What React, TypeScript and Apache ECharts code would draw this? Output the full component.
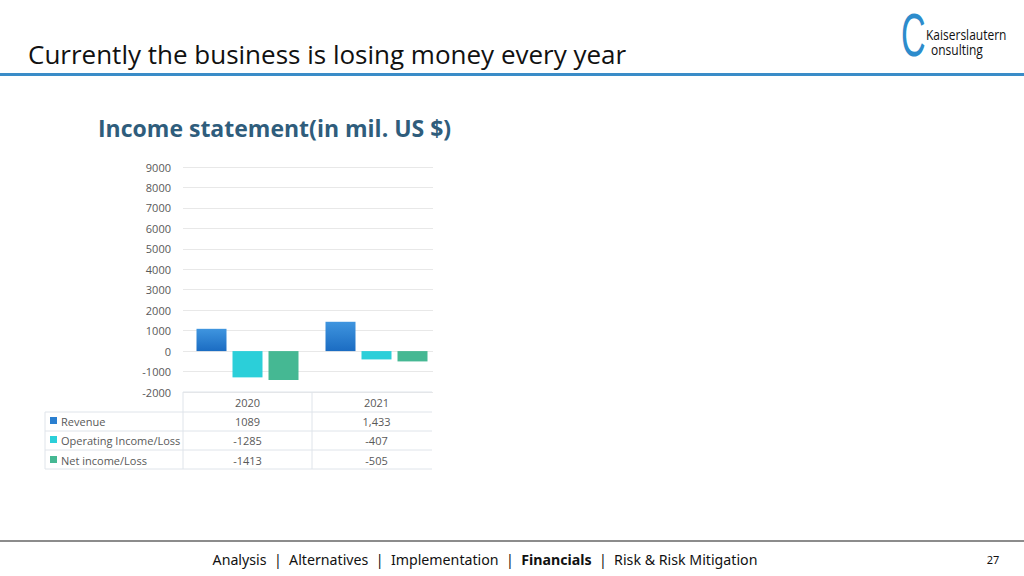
import React, { useEffect, useRef } from "react";
import * as echarts from "echarts";

const years = ["2020", "2021"];
const seriesNames = ["Revenue", "Operating Income/Loss", "Net income/Loss"];
const revenue = [1089, 1433];
const operatingIncome = [-1285, -407];
const netIncome = [-1413, -505];
const tableCells = [
  ["1089", "1,433"],
  ["-1285", "-407"],
  ["-1413", "-505"],
];
const yMin = -2000;
const yMax = 9000;
const yInterval = 1000;

const colors = ["#2a7fd0", "#2bcfd9", "#45b893"];

export default function App() {
  const ref = useRef<HTMLDivElement>(null);
  useEffect(() => {
    if (!ref.current) return;
    const chart = echarts.init(ref.current, undefined, { renderer: "svg" });

    const gridLeft = 183;
    const gridWidth = 258;
    const catW = gridWidth / years.length;
    const rowY = [421, 440, 460];
    const lineColor = "#dfe4ea";
    const textColor = "#595959";

    const graphics: any[] = [];
    // Header
    graphics.push({
      type: "text",
      x: 28,
      y: 54,
      style: {
        text: "Currently the business is losing money every year",
        fontSize: 26,
        fontFamily: "Open Sans",
        fill: "#111",
        verticalAlign: "middle",
      },
    });
    graphics.push({
      type: "rect",
      shape: { x: 0, y: 73, width: 1024, height: 3 },
      style: { fill: "#3a8cc8" },
    });
    // Logo
    graphics.push({
      type: "text",
      x: 901,
      y: 35,
      scaleX: 0.55,
      style: {
        text: "C",
        fontSize: 62,
        fontFamily: "Liberation Sans",
        fill: "#2d8ccc",
        verticalAlign: "middle",
      },
    });
    graphics.push({
      type: "text",
      x: 926,
      y: 34,
      scaleX: 0.8,
      style: {
        text: "Kaiserslautern",
        fontSize: 15,
        fontFamily: "Open Sans",
        fill: "#111",
        verticalAlign: "middle",
      },
    });
    graphics.push({
      type: "text",
      x: 931,
      y: 49,
      scaleX: 0.8,
      style: {
        text: "onsulting",
        fontSize: 15,
        fontFamily: "Open Sans",
        fill: "#111",
        verticalAlign: "middle",
      },
    });
    // Chart title
    graphics.push({
      type: "text",
      x: 98,
      y: 128,
      style: {
        text: "Income statement(in mil. US $)",
        fontSize: 23,
        fontWeight: "bold",
        fontFamily: "Open Sans",
        fill: "#2f5d7c",
        verticalAlign: "middle",
      },
    });
    // hide grid beyond 432
    graphics.push({
      type: "rect",
      z: 100,
      shape: { x: 433, y: 150, width: 20, height: 330 },
      style: { fill: "#fff" },
    });
    // Table lines
    const hLines = [
      { x1: gridLeft, x2: 432, y: 392 },
      { x1: 45, x2: 432, y: 412 },
      { x1: 45, x2: 432, y: 431 },
      { x1: 45, x2: 432, y: 450 },
      { x1: 45, x2: 432, y: 469 },
    ];
    hLines.forEach((l) =>
      graphics.push({
        type: "line",
        z: 50,
        shape: { x1: l.x1, y1: l.y, x2: l.x2, y2: l.y },
        style: { stroke: lineColor, lineWidth: 1 },
      })
    );
    [
      { x: gridLeft, y1: 392 },
      { x: gridLeft + catW, y1: 392 },
      { x: 45, y1: 412 },
    ].forEach((l) =>
      graphics.push({
        type: "line",
        z: 50,
        shape: { x1: l.x, y1: l.y1, x2: l.x, y2: 469 },
        style: { stroke: lineColor, lineWidth: 1 },
      })
    );
    years.forEach((y, i) =>
      graphics.push({
        type: "text",
        z: 50,
        x: gridLeft + catW * (i + 0.5),
        y: 402,
        style: {
          text: y,
          fontSize: 11,
          fontFamily: "Open Sans",
          fill: textColor,
          align: "center",
          verticalAlign: "middle",
        },
      })
    );
    seriesNames.forEach((name, r) => {
      graphics.push({
        type: "rect",
        z: 50,
        shape: { x: 50, y: rowY[r] - 4, width: 7, height: 7 },
        style: { fill: colors[r] },
      });
      graphics.push({
        type: "text",
        z: 50,
        x: 61,
        y: rowY[r],
        style: {
          text: name,
          fontSize: 11,
          fontFamily: "Open Sans",
          fill: textColor,
          verticalAlign: "middle",
        },
      });
      tableCells[r].forEach((c, i) =>
        graphics.push({
          type: "text",
          z: 50,
          x: gridLeft + catW * (i + 0.5),
          y: rowY[r],
          style: {
            text: c,
            fontSize: 11,
            fontFamily: "Open Sans",
            fill: textColor,
            align: "center",
            verticalAlign: "middle",
          },
        })
      );
    });
    // Footer
    graphics.push({
      type: "rect",
      shape: { x: 0, y: 540, width: 1024, height: 2 },
      style: { fill: "#8c8c8c" },
    });
    graphics.push({
      type: "text",
      x: 485,
      y: 559,
      style: {
        text: "Analysis  |  Alternatives  |  Implementation  |  {b|Financials}  |  Risk & Risk Mitigation",
        fontSize: 14.2,
        fontFamily: "Noto Sans",
        fill: "#111",
        align: "center",
        verticalAlign: "middle",
        rich: {
          b: { fontSize: 14.2, fontFamily: "Noto Sans", fontWeight: "bold", fill: "#111" },
        },
      },
    });
    graphics.push({
      type: "text",
      x: 993,
      y: 559,
      style: {
        text: "27",
        fontSize: 11,
        fontFamily: "Noto Sans",
        fill: "#111",
        align: "center",
        verticalAlign: "middle",
      },
    });

    chart.setOption({
      animation: false,
      backgroundColor: "#fff",
      grid: { left: gridLeft, top: 167, width: gridWidth, height: 225, containLabel: false },
      xAxis: {
        type: "category",
        data: years,
        axisLine: { show: false },
        axisTick: { show: false },
        axisLabel: { show: false },
      },
      yAxis: {
        type: "value",
        min: yMin,
        max: yMax,
        interval: yInterval,
        axisLine: { show: false },
        axisTick: { show: false },
        axisLabel: {
          fontSize: 11,
          fontFamily: "Open Sans",
          color: textColor,
          margin: 12,
          formatter: (v: number) => String(v),
        },
        splitLine: { lineStyle: { color: "#e8e8e8", width: 1 } },
      },
      series: [
        {
          name: seriesNames[0],
          type: "bar",
          data: revenue,
          barWidth: 30,
          barGap: "20%",
          itemStyle: {
            color: new echarts.graphic.LinearGradient(0, 0, 0, 1, [
              { offset: 0, color: "#3f95df" },
              { offset: 1, color: "#1b6cc2" },
            ]),
          },
        },
        {
          name: seriesNames[1],
          type: "bar",
          data: operatingIncome,
          barWidth: 30,
          barGap: "20%",
          itemStyle: { color: colors[1] },
        },
        {
          name: seriesNames[2],
          type: "bar",
          data: netIncome,
          barWidth: 30,
          barGap: "20%",
          itemStyle: { color: colors[2] },
        },
      ],
      graphic: graphics,
    });
    return () => chart.dispose();
  }, []);
  return (
    <div
      ref={ref}
      style={{ position: "fixed", left: 0, top: 0, width: 1024, height: 576 }}
    />
  );
}
